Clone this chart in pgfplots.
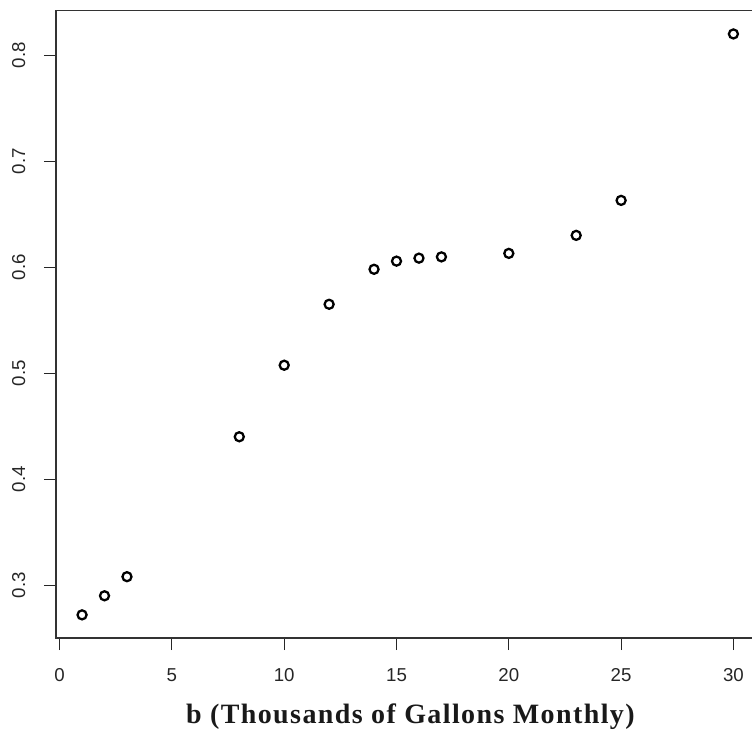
\documentclass[border=0pt]{standalone}
\usepackage{fontspec}
\setmainfont{Liberation Sans}
\newfontfamily\titlefont[LetterSpace=5]{Liberation Serif}
\usepackage{pgfplots}
\pgfplotsset{compat=1.18}

\pgfplotstableread{
b    r
1    0.272
2    0.290
3    0.308
8    0.440
10   0.5075
12   0.565
14   0.598
15   0.6057
16   0.6085
17   0.6097
20   0.613
23   0.630
25   0.663
30   0.820
}\datatable

\begin{document}
\begin{tikzpicture}
\path[use as bounding box] (0,0) rectangle (564pt,549.75pt);
\clip (0,0) rectangle (564pt,549.75pt);
\begin{axis}[
  at={(42pt,71.2pt)}, anchor=south west,
  scale only axis, width=527.6pt, height=470.5pt,
  xmin=-0.16, xmax=31.16, ymin=0.2501, ymax=0.8419,
  xtick={0,5,10,15,20,25,30},
  ytick={0.3,0.4,0.5,0.6,0.7,0.8},
  tick align=outside, tick pos=left,
  major tick length=9pt,
  tick style={black!85, line width=0.8pt},
  axis line style={black!80, line width=0.9pt},
  /pgf/number format/assume math mode=true,
  yticklabel style={/pgf/number format/fixed, /pgf/number format/precision=1,
    /pgf/number format/fixed zerofill, rotate=90, anchor=south},
  ticklabel style={font=\fontsize{14}{16}\selectfont, text=black!85},
  xticklabel style={anchor=north},
  xticklabel shift=10.5pt,
  yticklabel shift=10.5pt,
  xlabel={b (Thousands of Gallons Monthly)},
  xlabel style={font=\titlefont\bfseries\fontsize{21}{24}\selectfont, text=black!90,
    yshift=-9.5pt, xshift=2pt},
]
\addplot[only marks, mark=o, mark size=3.4pt, mark options={line width=1.7pt, black}]
  table[x=b, y=r] {\datatable};
\end{axis}
\end{tikzpicture}
\end{document}
